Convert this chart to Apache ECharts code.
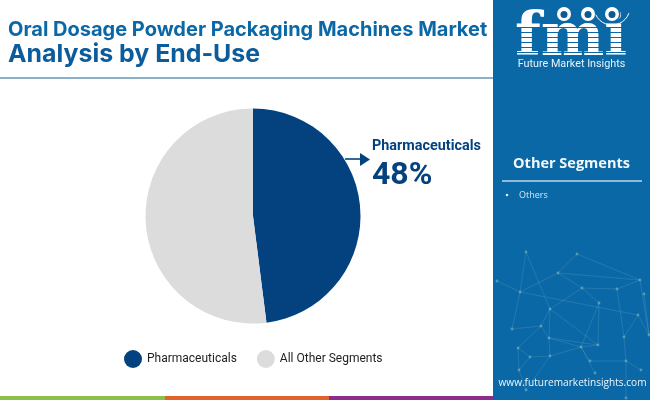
<!DOCTYPE html>
<html><head><meta charset="utf-8">
<style>html,body{margin:0;padding:0;background:#fff;overflow:hidden}#c{width:650px;height:400px}</style>
<script src="https://cdn.jsdelivr.net/npm/echarts@6/dist/echarts.min.js"></script>
</head><body><div id="c"></div>
<script>
const categories = ['Pharmaceuticals', 'All Other Segments'];
const values = [48, 52];
const sliceColors = ['#03417f', '#dcdcdc'];
const titleLines = ['Oral Dosage Powder Packaging Machines Market', 'Analysis by End-Use'];
const sideTitle = 'Other Segments';
const sideItems = ['Others'];
const website = 'www.futuremarketinsights.com';
const brand = 'Future Market Insights';

const panelBlue = '#0b68a6';
const netNodes = [[526,252],[577,254],[558,273],[497,281],[520,292],[582,288],[617,289],[640,280],[644,294],[550,309],[599,303],[638,315],[512,329],[541,326],[649,335],[549,338],[624,337],[598,345],[581,347],[518,348],[530,357],[550,356],[590,361],[626,361],[519,370],[641,370],[595,373],[526,390],[626,398]];
const netLinks = [[0,4],[0,9],[1,2],[2,4],[2,5],[1,7],[2,7],[5,6],[6,7],[5,10],[10,17],[9,17],[5,9],[4,12],[4,11],[3,4],[12,13],[13,9],[13,15],[15,21],[9,15],[15,17],[15,18],[18,17],[18,22],[22,23],[23,28],[16,23],[16,11],[11,14],[19,20],[20,21],[21,18],[20,24],[19,24],[21,27],[24,27],[6,16],[10,18],[7,14],[8,14],[13,19],[26,18],[25,23]];
const network = [];
netLinks.forEach(([a,b]) => network.push({type:'line',silent:true,z:2,shape:{x1:netNodes[a][0],y1:netNodes[a][1],x2:netNodes[b][0],y2:netNodes[b][1]},style:{stroke:'rgba(150,205,215,0.22)',lineWidth:0.8}}));
netNodes.forEach(([x,y]) => network.push({type:'circle',silent:true,z:2,shape:{cx:x,cy:y,r:1.4},style:{fill:'rgba(170,215,200,0.42)'}}));

const logoStripes = [];
[27,32,37,42,47,52].forEach(y => logoStripes.push({type:'rect',silent:true,z:12,shape:{x:515,y:y,width:115,height:1},style:{fill:panelBlue}}));
const globeSpots = [[564,14],[588,14],[612,14]];
const globes = globeSpots.map(([x,y]) => ({type:'circle',silent:true,z:13,shape:{cx:x,cy:y,r:8.5},style:{fill:panelBlue}}));
const globeOuter = globeSpots.map(([x,y]) => ({type:'circle',silent:true,z:14,shape:{cx:x,cy:y,r:7},style:{fill:'#fff'}}));
const globeInner = globeSpots.map(([x,y]) => ({type:'circle',silent:true,z:15,shape:{cx:x,cy:y+0.5,r:3.5},style:{fill:'#0d5a92'}}));

const chart = echarts.init(document.getElementById('c'), null, {renderer:'canvas'});
chart.setOption({
  animation:false,
  backgroundColor:'#ffffff',
  legend:{
    left:119, top:345, orient:'horizontal', icon:'circle', itemWidth:18, itemHeight:18, itemGap:20,
    selectedMode:false,
    textStyle:{fontFamily:'Roboto',fontSize:12,color:'#222'},
    data:categories
  },
  series:[{
    type:'pie', center:[253,216], radius:[0,107.5], startAngle:90, clockwise:true, silent:true,
    label:{show:false}, labelLine:{show:false},
    data:categories.map((name,i)=>({name,value:values[i],itemStyle:{color:sliceColors[i]}}))
  }],
  graphic:[
    {type:'rect',silent:true,shape:{x:0,y:77,width:493,height:2},style:{fill:'#8ab0cb'}},
    {type:'text',silent:true,style:{x:8,y:30,text:titleLines[0],fill:'#0b68a6',font:'700 20px Inter',textVerticalAlign:'middle'}},
    {type:'text',silent:true,style:{x:8,y:55,text:titleLines[1],fill:'#0b5c9c',font:'700 24.9px Inter',textVerticalAlign:'middle'}},
    {type:'line',silent:true,shape:{x1:345,y1:159,x2:362,y2:159},style:{stroke:'#03417f',lineWidth:1.6}},
    {type:'polygon',silent:true,shape:{points:[[360,153],[370,159.5],[360,166]]},style:{fill:'#03417f'}},
    {type:'text',silent:true,style:{x:372,y:146,text:categories[0],fill:'#03417f',font:'700 14.4px Roboto',textVerticalAlign:'middle'}},
    {type:'text',silent:true,style:{x:372,y:176,text:values[0]+'%',fill:'#03417f',font:'700 32px Roboto',textVerticalAlign:'middle'}},
    {type:'rect',silent:true,shape:{x:0,y:396,width:165,height:4},style:{fill:'#8cc04b'}},
    {type:'rect',silent:true,shape:{x:165,y:396,width:164,height:4},style:{fill:'#e0622d'}},
    {type:'rect',silent:true,shape:{x:329,y:396,width:164,height:4},style:{fill:'#8e2c8e'}},
    {type:'rect',silent:true,z:1,shape:{x:493,y:0,width:157,height:400},style:{fill:panelBlue}},
    {type:'group',silent:true,z:2,children:network},
    {type:'text',silent:true,z:11,style:{x:571,y:39,text:'fmi',fill:'#fff',textAlign:'center',textVerticalAlign:'middle',font:'700 60px "DejaVu Serif"'}},
    ...logoStripes, ...globes, ...globeOuter, ...globeInner,
    {type:'arc',silent:true,z:15,shape:{cx:612,cy:7,r:18,startAngle:0.35,endAngle:2.7,clockwise:true},style:{stroke:'#fff',fill:'none',lineWidth:1}},
    {type:'text',silent:true,z:11,style:{x:571.5,y:64,text:brand,fill:'#e8f2f9',textAlign:'center',textVerticalAlign:'middle',font:'400 10.8px Roboto'}},
    {type:'text',silent:true,z:11,style:{x:571.5,y:164,text:sideTitle,fill:'#f3f8fb',textAlign:'center',textVerticalAlign:'middle',font:'700 14.5px "Open Sans"'}},
    {type:'rect',silent:true,z:11,shape:{x:502,y:180,width:140,height:2},style:{fill:'#8fbbd9'}},
    {type:'circle',silent:true,z:11,shape:{cx:507,cy:195,r:1.3},style:{fill:'#dcebf5'}},
    {type:'text',silent:true,z:11,style:{x:519,y:195,text:sideItems[0],fill:'#d5e6f2',textVerticalAlign:'middle',font:'400 9px "Open Sans"'}},
    {type:'text',silent:true,z:11,style:{x:572.5,y:383,text:website,fill:'#eef6fb',textAlign:'center',textVerticalAlign:'middle',font:'400 10.1px "Open Sans"'}}
  ]
});
</script></body></html>
